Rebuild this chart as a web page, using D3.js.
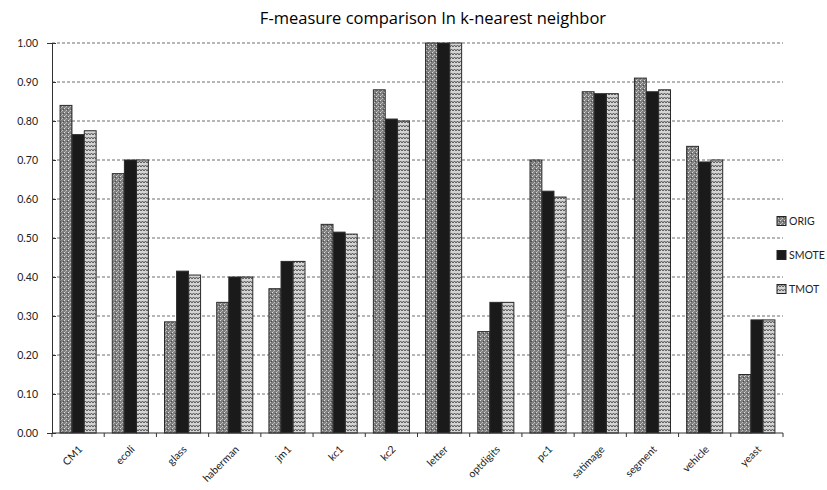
<!DOCTYPE html>
<html><head><meta charset="utf-8">
<script src="https://cdn.jsdelivr.net/npm/d3@7"></script>
<style>body{margin:0;background:#fff}svg{display:block}</style>
</head><body>
<script>
const categories = ["CM1","ecoli","glass","haberman","jm1","kc1","kc2","letter","optdigits","pc1","satimage","segment","vehicle","yeast"];
const seriesNames = ["ORIG","SMOTE","TMOT"];
const orig  = [0.84,0.665,0.285,0.335,0.37,0.535,0.88,1.00,0.26,0.70,0.875,0.91,0.735,0.15];
const smote = [0.765,0.70,0.415,0.40,0.44,0.515,0.805,1.00,0.335,0.62,0.87,0.875,0.695,0.29];
const tmot  = [0.775,0.70,0.405,0.40,0.44,0.51,0.80,1.00,0.335,0.605,0.87,0.88,0.70,0.29];
const yTicks = [0,0.1,0.2,0.3,0.4,0.5,0.6,0.7,0.8,0.9,1.0];
const series = [orig, smote, tmot];

const W=827,H=490;
const svg=d3.select("body").append("svg").attr("width",W).attr("height",H);
const defs=svg.append("defs");
// ORIG pattern: speckled gray
const p1=defs.append("pattern").attr("id","pOrig").attr("patternUnits","userSpaceOnUse").attr("width",4).attr("height",4);
p1.append("rect").attr("width",4).attr("height",4).attr("fill","#7e7e7e");
p1.append("rect").attr("x",0).attr("y",0).attr("width",1).attr("height",1).attr("fill","#e0e0e0");
p1.append("rect").attr("x",2).attr("y",2).attr("width",1).attr("height",1).attr("fill","#c8c8c8");
p1.append("rect").attr("x",3).attr("y",1).attr("width",1).attr("height",1).attr("fill","#4a4a4a");
p1.append("rect").attr("x",1).attr("y",3).attr("width",1).attr("height",1).attr("fill","#b0b0b0");
// TMOT pattern: zigzag
const p3=defs.append("pattern").attr("id","pTmot").attr("patternUnits","userSpaceOnUse").attr("width",6).attr("height",4);
p3.append("rect").attr("width",6).attr("height",4).attr("fill","#d4d4d4");
p3.append("path").attr("d","M0,3 L1.5,1 L3,3 L4.5,1 L6,3").attr("stroke","#555").attr("stroke-width",1).attr("fill","none");
const fills=["url(#pOrig)","#1a1a1a","url(#pTmot)"];

const m={l:52,r:44,t:43,b:57};
const x=d3.scaleBand().domain(categories).range([m.l,783]).paddingInner(0.3).paddingOuter(0.15);
const xs=d3.scaleBand().domain(seriesNames).range([0,x.bandwidth()]).padding(0.02);
const y=d3.scaleLinear().domain([0,1]).range([433,43]);

// gridlines
svg.append("g").selectAll("line").data(yTicks.slice(1)).join("line")
 .attr("x1",m.l).attr("x2",783).attr("y1",d=>y(d)).attr("y2",d=>y(d))
 .attr("stroke","#555").attr("stroke-width",1).attr("stroke-dasharray","3,2").attr("opacity",0.85);

// bars
const g=svg.append("g");
categories.forEach((c,i)=>{
  seriesNames.forEach((s,j)=>{
    g.append("rect").attr("x",x(c)+xs(s)).attr("y",y(series[j][i]))
     .attr("width",xs.bandwidth()).attr("height",y(0)-y(series[j][i]))
     .attr("fill",fills[j]).attr("stroke","#2a2a2a").attr("stroke-width",1);
  });
});

// y axis
const ya=svg.append("g").attr("transform",`translate(${m.l},0)`)
 .call(d3.axisLeft(y).tickValues(yTicks).tickFormat(d3.format(".2f")).tickSize(5));
ya.select(".domain").attr("stroke","#333");
ya.selectAll(".tick line").attr("stroke","#333").attr("x2",4);
ya.selectAll("text").attr("font-family","Lato, 'Open Sans', sans-serif").attr("font-size",10.5).attr("fill","#222").attr("x",-14);

// x axis
const xa=svg.append("g").attr("transform",`translate(0,${y(0)})`);
xa.append("line").attr("x1",m.l).attr("x2",783).attr("stroke","#333");
xa.selectAll(".t").data(d3.range(categories.length+1)).join("line")
 .attr("x1",i=>m.l+i*((783-m.l)/categories.length)).attr("x2",i=>m.l+i*((783-m.l)/categories.length))
 .attr("y1",0).attr("y2",4).attr("stroke","#333");
xa.selectAll("text").data(categories).join("text")
 .attr("transform",d=>`translate(${x(d)+x.bandwidth()/2+5},17) rotate(-45)`)
 .attr("text-anchor","end").attr("font-family","Lato, 'Open Sans', sans-serif").attr("font-size",10.5).attr("fill","#222")
 .text(d=>d);

// title
svg.append("text").attr("x",433).attr("y",24).attr("text-anchor","middle")
 .attr("font-family","'Open Sans', 'DejaVu Sans', sans-serif").attr("font-size",16.5).attr("font-weight",500).attr("fill","#000")
 .text("F-measure comparison In k-nearest neighbor");

// legend
const lg=svg.append("g");
seriesNames.forEach((s,j)=>{
  const yy=221+j*34;
  lg.append("rect").attr("x",777).attr("y",yy-4.5).attr("width",9).attr("height",9).attr("fill",fills[j]).attr("stroke","#222");
  lg.append("text").attr("x",789).attr("y",yy+4).attr("font-family","Lato, 'Open Sans', sans-serif").attr("font-size",10.5).attr("fill","#222").text(s);
});
</script>
</body></html>
